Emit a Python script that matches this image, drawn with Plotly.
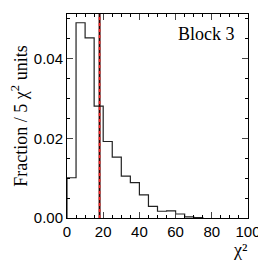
import plotly.graph_objects as go

bin_edges = [0, 5, 10, 15, 20, 25, 30, 35, 40, 45, 50, 55, 60, 65, 70, 75]
fractions = [0.0101, 0.0490, 0.0452, 0.0281, 0.0192, 0.0153, 0.0105, 0.0089,
             0.0058, 0.0029, 0.0017, 0.0018, 0.0010, 0.0003, 0.0001]
marker_x = 18.0
y_max = 0.0512
label_text = "Block 3"

xs = [bin_edges[0]] + bin_edges[:-1] + [bin_edges[-1], bin_edges[-1]]
ys = [0] + fractions + [fractions[-1], 0]

fig = go.Figure()
fig.add_trace(go.Scatter(x=xs, y=ys, mode="lines", line=dict(color="#222", width=1.2, shape="hv"),
                         hoverinfo="skip", showlegend=False))
fig.add_trace(go.Scatter(x=[marker_x, marker_x], y=[0, y_max], mode="lines",
                         line=dict(color="#3a0000", width=2), showlegend=False))
fig.add_trace(go.Scatter(x=[marker_x, marker_x], y=[0, y_max], mode="lines",
                         line=dict(color="#ff2020", width=1.5, dash="dot"), showlegend=False))

tickfont = dict(family="Liberation Sans", size=15, color="black")
fig.update_layout(
    width=258, height=252,
    margin=dict(l=59, r=15, t=5, b=42),
    plot_bgcolor="white", paper_bgcolor="white",
    xaxis=dict(range=[0, 100], dtick=20, tick0=0, ticks="inside", ticklen=6, tickwidth=1,
               showline=True, linecolor="black", linewidth=1, mirror="allticks",
               showgrid=False, zeroline=False, tickfont=tickfont,
               minor=dict(dtick=5, ticks="inside", ticklen=3, tickcolor="black", showgrid=False)),
    yaxis=dict(range=[0, y_max], dtick=0.02, tick0=0, tickformat=".2f", ticks="inside",
               ticklen=6, tickwidth=1, showline=True, linecolor="black", linewidth=1,
               mirror="allticks", showgrid=False, zeroline=False, tickfont=tickfont,
               minor=dict(dtick=0.005, ticks="inside", ticklen=3, tickcolor="black", showgrid=False),
               title=dict(text="Fraction / 5 χ<sup>2</sup> units",
                          font=dict(family="Liberation Serif", size=18, color="black"),
                          standoff=3)),
    annotations=[
        dict(text=label_text, x=0.94, y=0.96, xref="paper", yref="paper",
             xanchor="right", yanchor="top", showarrow=False,
             font=dict(family="Liberation Serif", size=18, color="black")),
        dict(text="χ²", x=1.0, y=-0.21, xref="paper", yref="paper",
             xanchor="right", yanchor="bottom", showarrow=False, borderpad=0,
             font=dict(family="Liberation Serif", size=18, color="black")),
    ],
)

fig.write_html("out.html")
